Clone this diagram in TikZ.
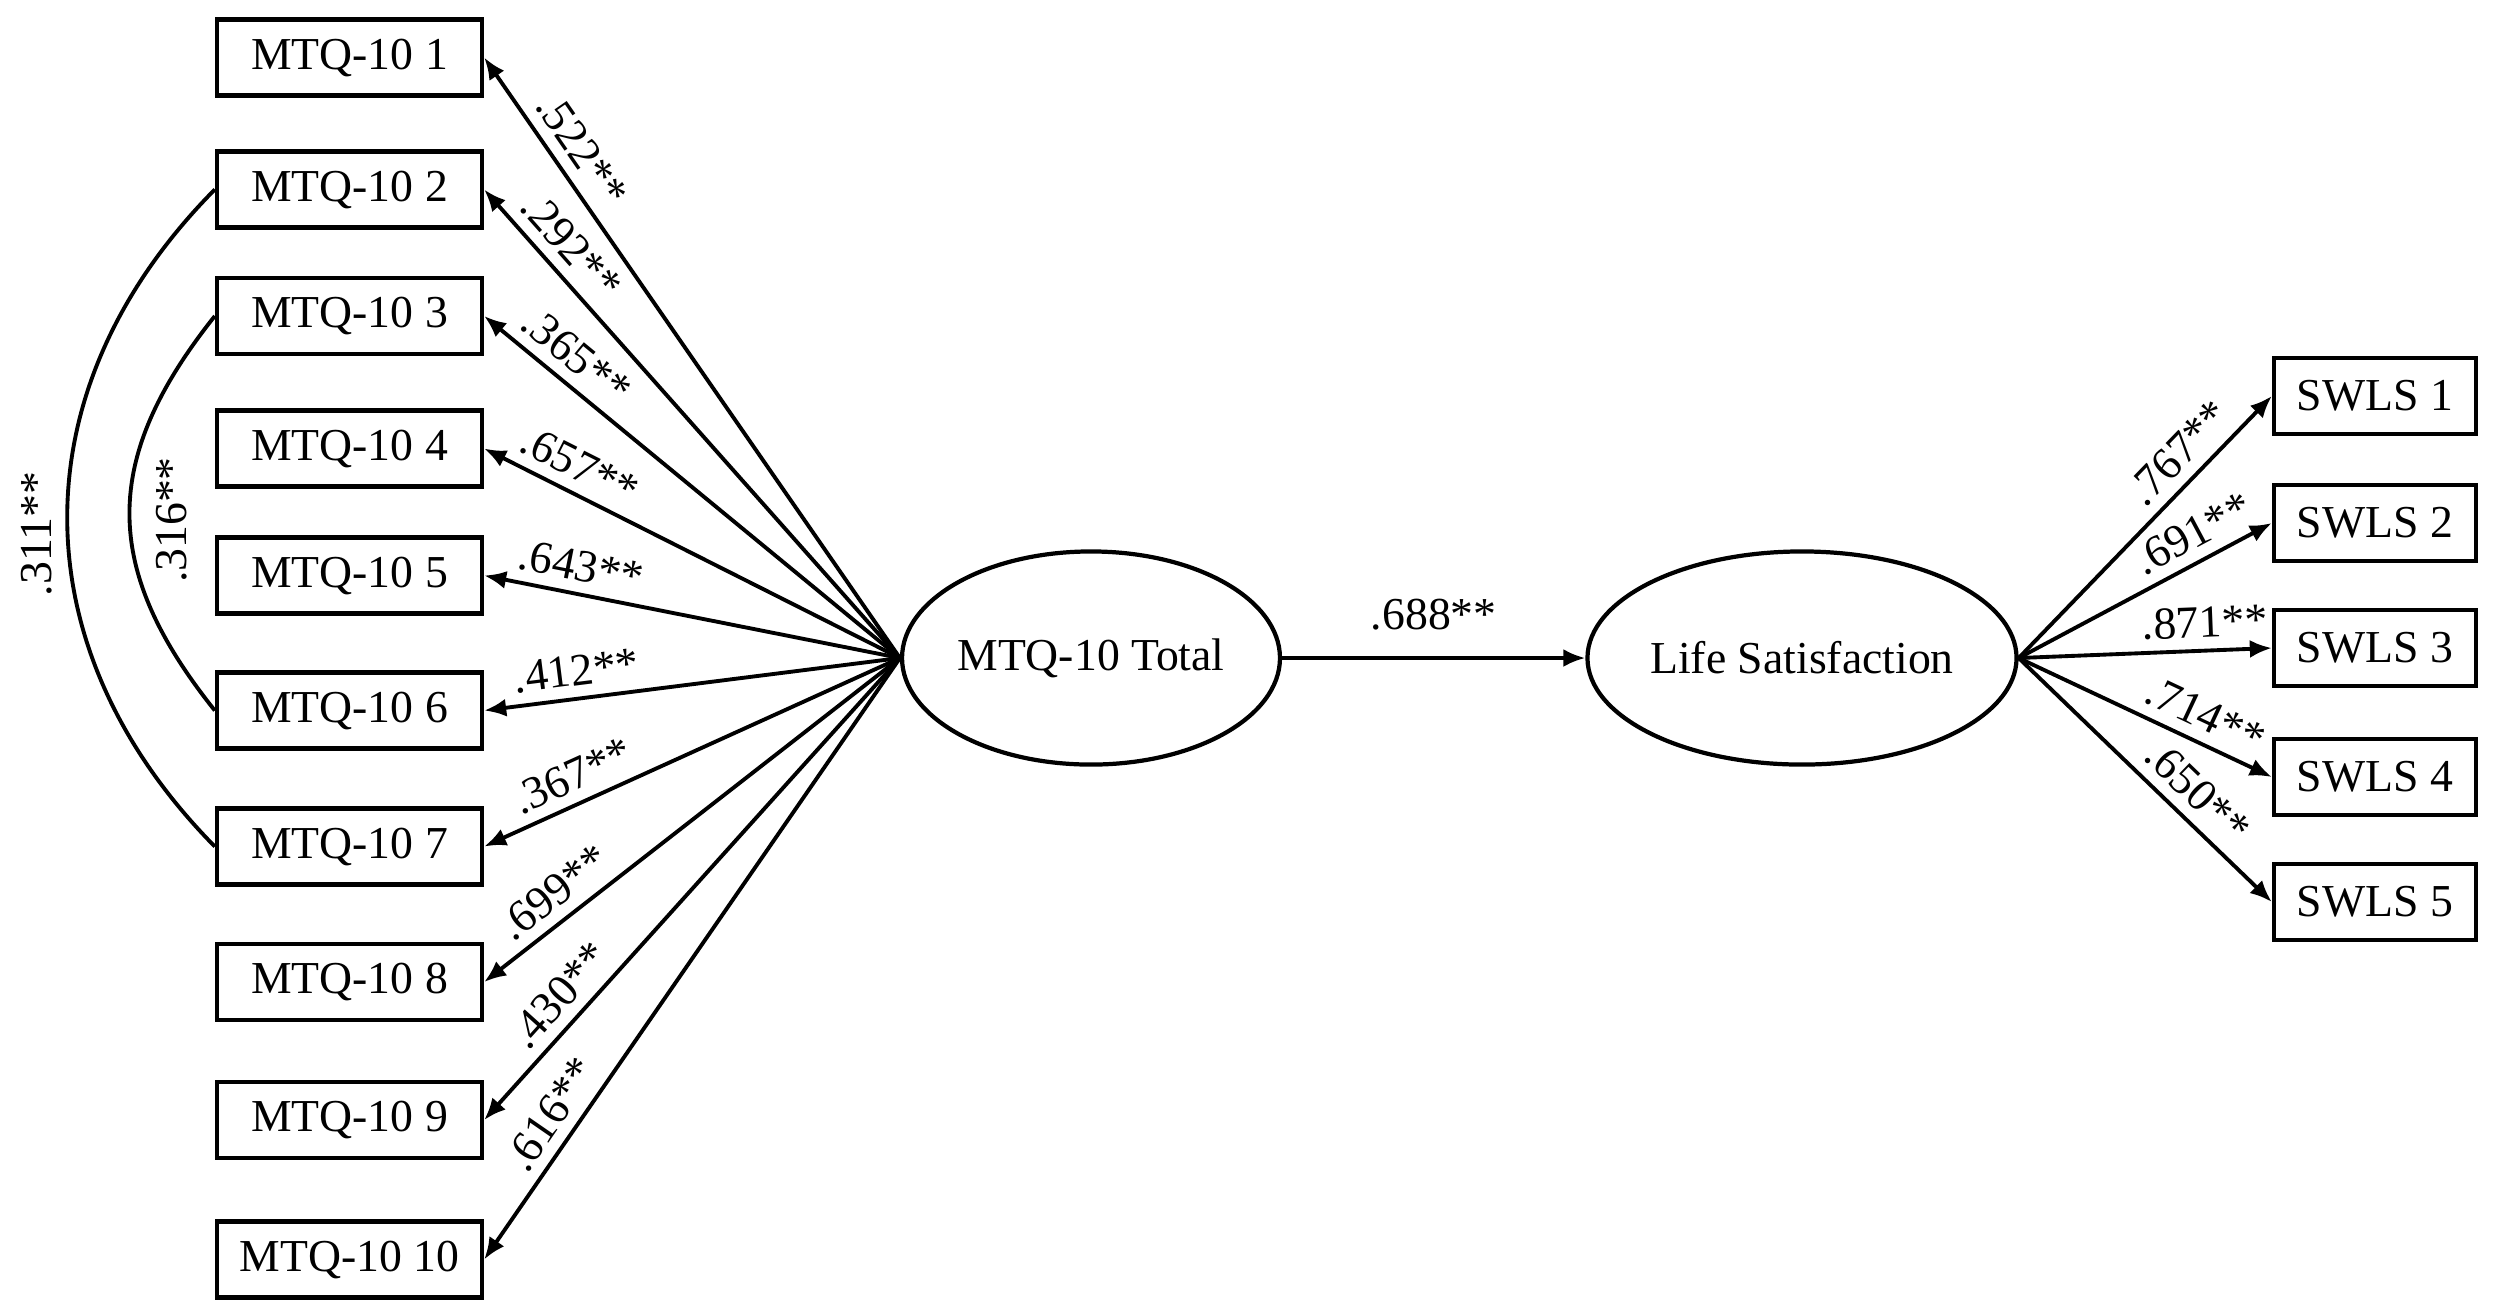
\documentclass[tikz,border=0pt]{standalone}
\usepackage{fontspec}
\setmainfont{Liberation Serif}
\usetikzlibrary{arrows.meta,shapes.geometric}
\begin{document}
\begin{tikzpicture}[x=0.01cm,y=-0.01cm,
  every node/.style={font=\fontsize{13}{15}\selectfont},
  obsl/.style={draw, line width=1.2pt, minimum width=2.65cm, minimum height=0.76cm, inner sep=0pt},
  obsr/.style={draw, line width=1.2pt, minimum width=2.02cm, minimum height=0.76cm, inner sep=0pt},
  lat/.style={draw, ellipse, line width=1.2pt, minimum width=3.62cm, minimum height=2.13cm, inner sep=0pt},
  conn/.style={-{Latex[length=2.2mm,width=1.8mm]}, line width=1.1pt},
  corr/.style={line width=1.1pt},
  coef/.style={sloped, above=2pt, inner sep=1pt},
]
\useasboundingbox (0,0) rectangle (2500,1305);

\node[lat] (tot) at (1091,658) {MTQ-10 Total};
\node[lat] (ls) at (1802,658) {Life Satisfaction};

\foreach \i/\yy in {1/57.5, 2/189.5, 3/316, 4/448.5, 5/575.5, 6/710.5, 7/846.5, 8/982, 9/1120, 10/1259.5}
  \node[obsl] (m\i) at (349.5,\yy) {MTQ-10 \i};

\foreach \i/\yy in {1/396, 2/523, 3/648, 4/777, 5/902}
  \node[obsr] (s\i) at (2375,\yy) {SWLS \i};

\foreach \i/\cf/\pp in {1/.522/0.82, 2/.292/0.84, 3/.365/0.82, 4/.657/0.80, 5/.643/0.78, 6/.412/0.77, 7/.367/0.76, 8/.699/0.79, 9/.430/0.77, 10/.616/0.785}
  \draw[conn] (tot.west) -- node[coef, pos=\pp] (lm\i) {\cf**} (m\i.east);

\foreach \i/\cf/\pp in {1/.767/0.71, 2/.691/0.74, 3/.871/0.74, 4/.714/0.69, 5/.650/0.63}
  \draw[conn] (ls.east) -- node[coef, pos=\pp] (ls\i) {\cf**} (s\i.west);

\draw[conn] (tot.east) -- node[above=6.4pt, inner sep=1pt] (lmid) {.688**} (ls.west);

\draw[corr] (m2.west) .. controls (18,388) and (18,647) .. (m7.west);
\draw[corr] (m3.west) .. controls (101,459) and (101,568) .. (m6.west);
\node[rotate=90] (c27) at (37,534) {.311**};
\node[rotate=90] (c36) at (172,520) {.316**};
\end{tikzpicture}
\end{document}
